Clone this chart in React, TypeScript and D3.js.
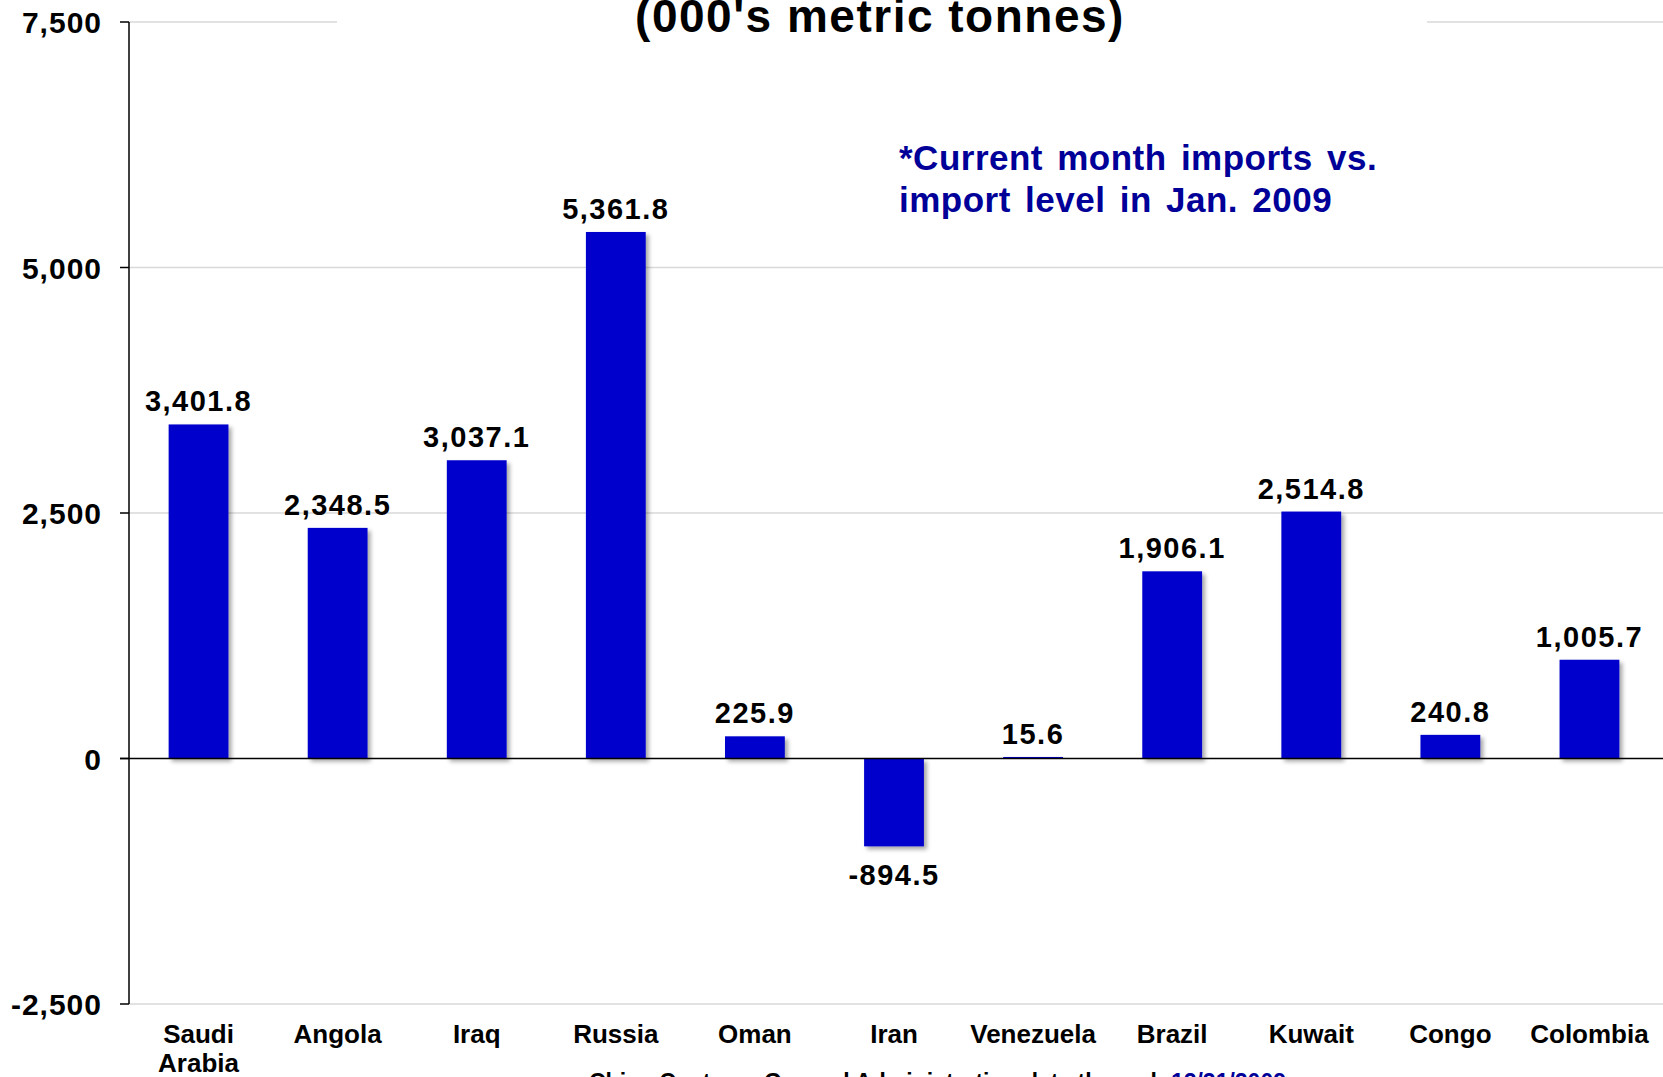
import React from 'react';
import * as d3 from 'd3';

const categories = ['Saudi Arabia', 'Angola', 'Iraq', 'Russia', 'Oman', 'Iran', 'Venezuela', 'Brazil', 'Kuwait', 'Congo', 'Colombia'];
const values = [3401.8, 2348.5, 3037.1, 5361.8, 225.9, -894.5, 15.6, 1906.1, 2514.8, 240.8, 1005.7];
const yTicks = [-2500, 0, 2500, 5000, 7500];
const titleText = "(000's metric tonnes)";
const noteLines = ['*Current month imports vs.', 'import level in Jan. 2009'];
const sourceText = 'China Customs General Administration data through ';
const sourceDate = '12/31/2009';

const W = 1663;
const H = 1077;
const FONT = '"Liberation Sans", Arial, Helvetica, sans-serif';
const BAR = '#0000CC';

const loc = d3.formatLocale({ decimal: '.', thousands: ',', grouping: [3], currency: ['$', ''], minus: '-' });
const fmtVal = loc.format(',.1f');
const fmtTick = loc.format(',');

export default function App() {
  if (typeof document !== 'undefined') document.body.style.margin = '0';
  const y = d3.scaleLinear().domain([-2500, 7500]).range([1004, 22]);
  const x = d3.scaleBand<string>().domain(categories).range([129, 1659]).paddingInner(0.57).paddingOuter(0.285);
  const axisX = 129;
  const y0 = y(0);

  return (
    <svg width={W} height={H} style={{ position: 'absolute', left: 0, top: 0, background: '#fff' }} fontFamily={FONT}>
      <defs>
        <filter id="shadow" x="-20%" y="-20%" width="150%" height="150%">
          <feDropShadow dx="3" dy="3" stdDeviation="2" floodColor="#000" floodOpacity="0.35" />
        </filter>
      </defs>
      <rect x={0} y={0} width={W} height={H} fill="#fff" />
      {/* gridlines */}
      {yTicks.filter(t => t !== 0).map(t => (
        <line key={'g' + t} x1={axisX} x2={W} y1={y(t)} y2={y(t)} stroke="#D9D9D9" strokeWidth={1.5} />
      ))}
      {/* title background and title */}
      <rect x={337} y={0} width={1090} height={52} fill="#fff" />
      <text x={880} y={32} textAnchor="middle" fontSize={46} fontWeight="bold" letterSpacing={1.5} fill="#000">{titleText}</text>
      {/* bars */}
      {values.map((v, i) => {
        const c = categories[i];
        const top = y(Math.max(0, v));
        const h = Math.abs(y(v) - y0);
        return (
          <rect key={c} x={x(c)} y={top} width={x.bandwidth()} height={Math.max(h, 0.8)} fill={BAR} filter="url(#shadow)" />
        );
      })}
      {/* zero line */}
      <line x1={axisX - 9} x2={W} y1={y0} y2={y0} stroke="#000" strokeWidth={1.5} />
      {/* y axis */}
      <line x1={axisX} x2={axisX} y1={y(7500)} y2={y(-2500)} stroke="#000" strokeWidth={1.5} />
      {yTicks.map(t => (
        <g key={'t' + t}>
          <line x1={axisX - 9} x2={axisX} y1={y(t)} y2={y(t)} stroke="#000" strokeWidth={1.5} />
          <text x={102} y={y(t) + 11} textAnchor="end" fontSize={30} fontWeight="bold" letterSpacing={1} fill="#000">{fmtTick(t)}</text>
        </g>
      ))}
      {/* value labels */}
      {values.map((v, i) => {
        const c = categories[i];
        const cx = (x(c) as number) + x.bandwidth() / 2;
        const ly = v >= 0 ? y(v) - 13 : y(v) + 39;
        return (
          <text key={'v' + c} x={cx} y={ly} textAnchor="middle" fontSize={29} fontWeight="bold" letterSpacing={1.5} fill="#000">{fmtVal(v)}</text>
        );
      })}
      {/* category labels */}
      {categories.map(c => {
        const cx = (x(c) as number) + x.bandwidth() / 2;
        const words = c === 'Saudi Arabia' ? ['Saudi', 'Arabia'] : [c];
        return (
          <text key={'c' + c} x={cx} y={1043} textAnchor="middle" fontSize={26} fontWeight="bold" fill="#000">
            {words.map((w, k) => (
              <tspan key={k} x={cx} dy={k === 0 ? 0 : 29}>{w}</tspan>
            ))}
          </text>
        );
      })}
      {/* note */}
      <text x={899} y={170} fontSize={35} fontWeight="bold" fill="#000099" letterSpacing={0.5} wordSpacing={4}>
        {noteLines.map((l, k) => (
          <tspan key={k} x={899} dy={k === 0 ? 0 : 42}>{l}</tspan>
        ))}
      </text>
      {/* source */}
      <text x={589} y={1090} fontSize={23} fontWeight="bold" fill="#000">
        {sourceText}
        <tspan fill="#000099">{sourceDate}</tspan>
      </text>
    </svg>
  );
}
